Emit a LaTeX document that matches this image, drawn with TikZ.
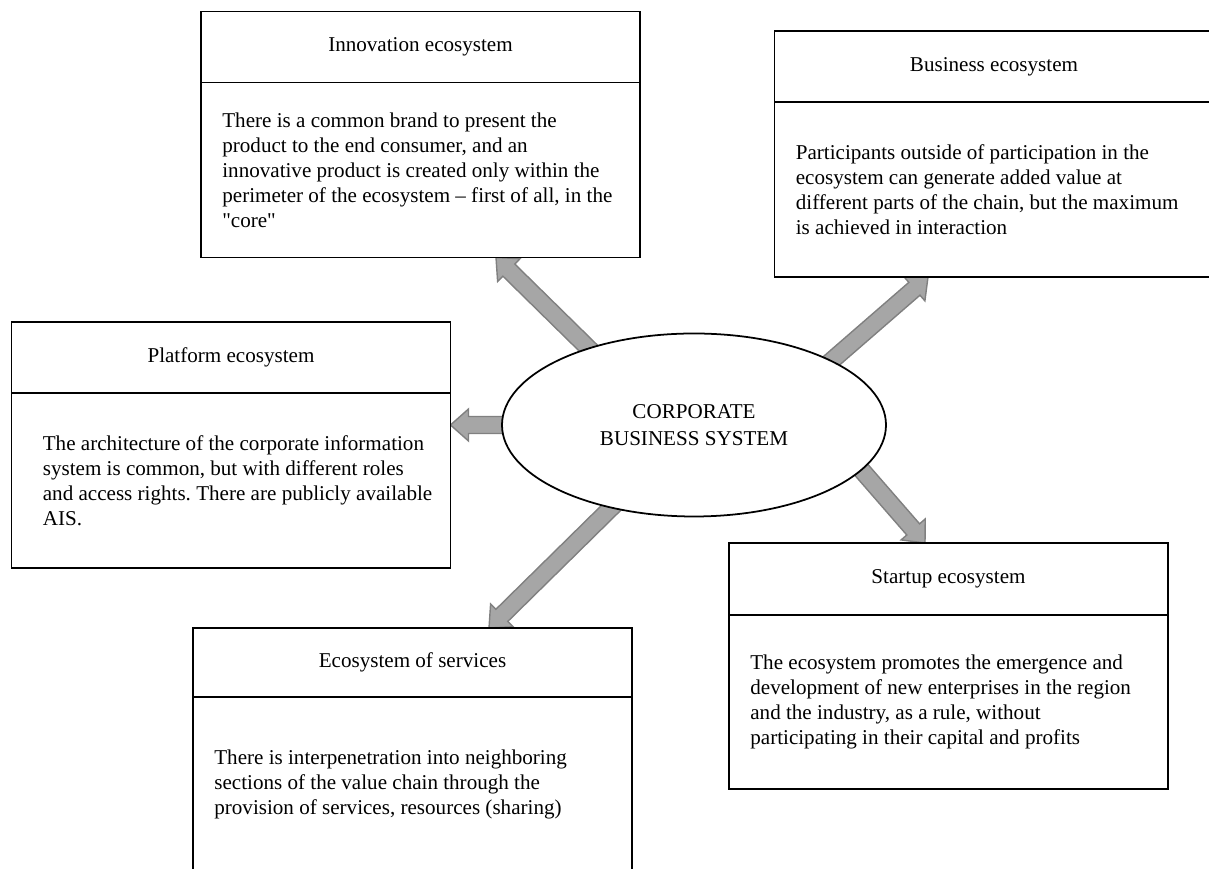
\documentclass[tikz,border=0pt]{standalone}
\usepackage{fontspec}
\setmainfont{Liberation Serif}
\usepackage{tikz}
\usetikzlibrary{positioning,calc,shapes.geometric,backgrounds}
\frenchspacing

\tikzset{
  boxhead/.style={draw, fill=white, line width=1pt, inner sep=0pt, outer sep=0pt,
    minimum width=8.78cm, minimum height=1.42cm, font=\fontsize{12}{14.2}\selectfont},
  boxbody/.style={draw, fill=white, line width=1pt, inner sep=0pt, outer sep=0pt,
    minimum width=8.78cm, minimum height=3.5cm},
  desc/.style={inner sep=0pt, align=left, font=\fontsize{12}{14.2}\selectfont},
  conn/.style={fill=black!35, draw=black!50, line width=0.8pt, line join=miter}
}

% block arrow from #1 to #2
\newcommand{\blockarrow}[2]{%
  \path ($(#1)!-0.2cm!(#2)$) coordinate (ba-s)
        ($(#2)!0.36cm!(#1)$) coordinate (ba-h);
  \filldraw[conn] ($(ba-s)!0.17cm!90:(#2)$) -- ($(ba-h)!0.17cm!90:(#2)$)
    -- ($(ba-h)!0.32cm!90:(#2)$) -- (#2) -- ($(ba-h)!0.32cm!-90:(#2)$)
    -- ($(ba-h)!0.17cm!-90:(#2)$) -- ($(ba-s)!0.17cm!-90:(#2)$) -- cycle;
}

\begin{document}
\begin{tikzpicture}
    \useasboundingbox (0, 0) rectangle (24.18, 17.38);

    % Centre
    \node[draw, fill=white, ellipse, line width=1pt, inner sep=0pt, outer sep=0pt,
      minimum width=7.68cm, minimum height=3.66cm, align=center,
      font=\fontsize{12}{15}\selectfont] (cbs) at (13.88, 8.88)
      {CORPORATE\\BUSINESS SYSTEM};

    % Innovation
    \node[boxhead] (innoh) at (8.41, 16.44) {Innovation ecosystem};
    \node[boxbody, below=0pt of innoh] (innob) {};
    \node[desc, right=0.42cm of innob.west] (innot)
      {There is a common brand to present the\\
       product to the end consumer, and an\\
       innovative product is created only within the\\
       perimeter of the ecosystem -- first of all, in the\\
       \textquotedbl core\textquotedbl};

    % Business
    \node[boxhead] (bizh) at (19.88, 16.05) {Business ecosystem};
    \node[boxbody, below=0pt of bizh] (bizb) {};
    \node[desc, right=0.42cm of bizb.west] (bizt)
      {Participants outside of participation in the\\
       ecosystem can generate added value at\\
       different parts of the chain, but the maximum\\
       is achieved in interaction};

    % Platform
    \node[boxhead] (plath) at (4.62, 10.23) {Platform ecosystem};
    \node[boxbody, below=0pt of plath] (platb) {};
    \node[desc, right=0.62cm of platb.west] (platt)
      {The architecture of the corporate information\\
       system is common, but with different roles\\
       and access rights. There are publicly available\\
       AIS.};

    % Services
    \node[boxhead, minimum height=1.38cm] (servh) at (8.25, 4.13) {Ecosystem of services};
    \node[boxbody, below=0pt of servh] (servb) {};
    \node[desc, right=0.42cm of servb.west] (servt)
      {There is interpenetration into neighboring\\
       sections of the value chain through the\\
       provision of services, resources (sharing)};

    % Startup
    \node[boxhead, minimum height=1.44cm] (starth) at (18.97, 5.8) {Startup ecosystem};
    \node[boxbody, minimum height=3.48cm, below=0pt of starth] (startb) {};
    \node[desc, right=0.42cm of startb.west] (startt)
      {The ecosystem promotes the emergence and\\
       development of new enterprises in the region\\
       and the industry, as a rule, without\\
       participating in their capital and profits};

    % Arrows
    \coordinate (innotip) at ([xshift=1.51cm]innob.south);
    \coordinate (biztip) at ([xshift=-1.32cm]bizb.south);
    \coordinate (plattip) at (platb.east |- cbs.west);
    \coordinate (servtip) at ([xshift=1.53cm]servh.north);
    \coordinate (starttip) at ([xshift=-0.47cm]starth.north);
    \begin{scope}[on background layer]
      \blockarrow{cbs.144}{innotip}
      \blockarrow{cbs.25}{biztip}
      \blockarrow{cbs.west}{plattip}
      \blockarrow{cbs.225}{servtip}
      \blockarrow{cbs.345}{starttip}
    \end{scope}
\end{tikzpicture}
\end{document}
